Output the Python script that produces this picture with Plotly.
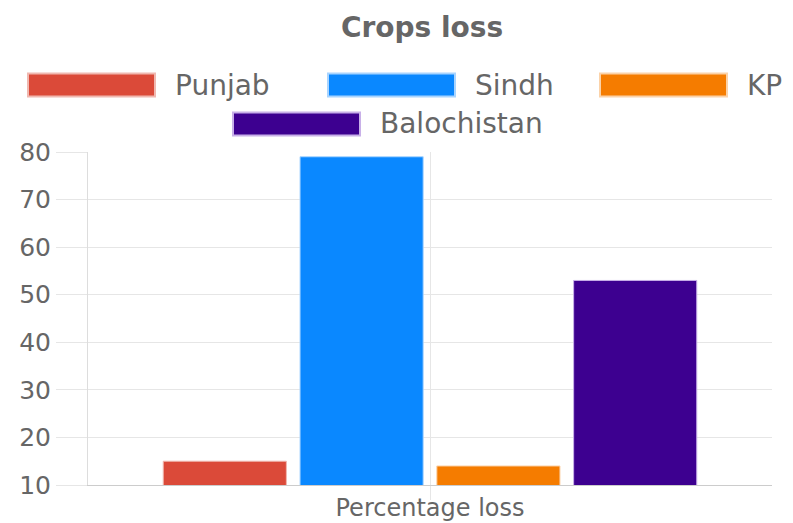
import plotly.graph_objects as go

# ---- data ----
categories = ["Percentage loss"]
series_names = ["Punjab", "Sindh", "KP", "Balochistan"]
series_values = [[15], [79], [14], [53]]
series_colors = ["#db4a39", "#0a88ff", "#f57c00", "#3d0090"]
series_borders = ["#f0b8b0", "#a8d4ff", "#fbd2a8", "#c8b0e8"]
y_ticks = [10, 20, 30, 40, 50, 60, 70, 80]

W, H = 793, 523
OFF = 8  # page body margin offset
# plot area as seen in the reference (screen pixels), converted to figure pixels
L, R, T, B = 88 - OFF, 772 - OFF, 152 - OFF, 485 - OFF

FONT = "DejaVu Sans"
GREY = "#666666"

fig = go.Figure()
for name, vals, col, bcol in zip(series_names, series_values, series_colors, series_borders):
    fig.add_trace(go.Bar(
        x=categories, y=vals, name=name,
        marker=dict(color=col, line=dict(color=bcol, width=1)),
        showlegend=False,
    ))

def px_x(p):
    return (p - OFF - L) / (R - L)

def px_y(p):
    return (B - (p - OFF)) / (B - T)

# custom wide-box legend (Chart.js style)
legend_rows = [[0, 1, 2], [3]]
row_centers = [85, 124]
row_box_lefts = [[28, 328, 600], [233]]
box_w, box_h = 127, 23
shapes = []
annotations = []
for r, idxs in enumerate(legend_rows):
    cy = row_centers[r]
    for j, i in enumerate(idxs):
        x0 = row_box_lefts[r][j]
        shapes.append(dict(
            type="rect", xref="paper", yref="paper",
            x0=px_x(x0), x1=px_x(x0 + box_w),
            y0=px_y(cy + box_h / 2), y1=px_y(cy - box_h / 2),
            fillcolor=series_colors[i], line=dict(color=series_borders[i], width=2),
            layer="above",
        ))
        annotations.append(dict(
            xref="paper", yref="paper", x=px_x(x0 + box_w + 18), y=px_y(cy),
            xanchor="left", yanchor="middle", showarrow=False,
            text=series_names[i], font=dict(family=FONT, size=28, color=GREY),
        ))

fig.update_layout(
    width=W, height=H,
    margin=dict(l=L, r=W - R, t=T, b=H - B, pad=0, autoexpand=False),
    paper_bgcolor="white", plot_bgcolor="white",
    barmode="group", bargap=0.2, bargroupgap=0.1,
    title=dict(text="<b>Crops loss</b>", x=px_x(422), xanchor="center",
               xref="paper", yref="container", y=1 - (27 - OFF) / H, yanchor="middle",
               font=dict(family=FONT, size=28, color=GREY)),
    shapes=shapes, annotations=annotations,
    xaxis=dict(
        range=[-0.5, 0.5], showgrid=True, gridcolor="#e6e6e6", gridwidth=1,
        ticks="outside", ticklen=14, tickcolor="#e6e6e6", automargin=False,
        ticklabelstandoff=-13,
        showline=True, linecolor="#cccccc", linewidth=1,
        tickfont=dict(family=FONT, size=24, color=GREY), zeroline=False,
    ),
    yaxis=dict(
        range=[10, 80], tickvals=y_ticks, showgrid=True, gridcolor="#e6e6e6", gridwidth=1,
        ticks="outside", ticklen=31, tickcolor="#e6e6e6", automargin=False,
        showline=True, linecolor="#dddddd", linewidth=1,
        tickfont=dict(family=FONT, size=25, color=GREY), zeroline=False,
    ),
)

fig.write_html("out.html")
